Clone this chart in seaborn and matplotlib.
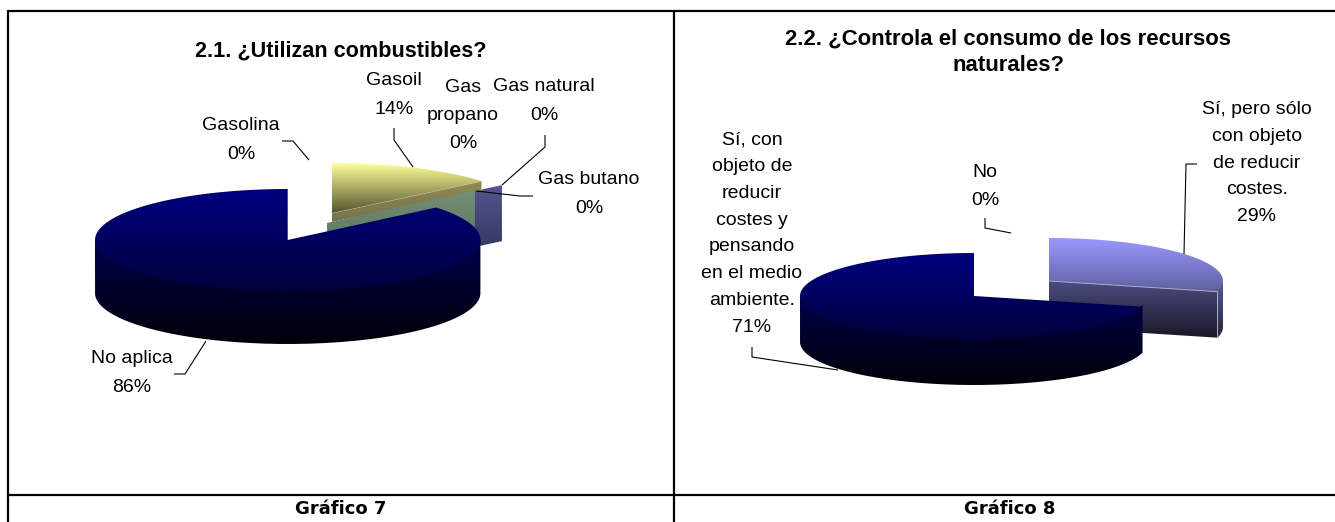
import numpy as np
import matplotlib
matplotlib.use('Agg')
import matplotlib.pyplot as plt
import seaborn as sns
from matplotlib.patches import PathPatch
from matplotlib.path import Path

# Data
labels_a = ['Gasolina', 'Gasoil', 'Gas\npropano', 'Gas natural', 'Gas butano', 'No aplica']
values_a = [0, 14, 0, 0, 0, 86]
labels_b = ['Sí, pero sólo\ncon objeto\nde reducir\ncostes.', 'Sí, con\nobjeto de\nreducir\ncostes y\npensando\nen el medio\nambiente.', 'No']
values_b = [29, 71, 0]
titles = ['2.1. ¿Utilizan combustibles?', '2.2. ¿Controla el consumo de los recursos\nnaturales?']
footers = ['Gráfico 7', 'Gráfico 8']

sns.set_theme(style='white')
plt.rcParams['font.family'] = ['Liberation Sans', 'DejaVu Sans']

fig = plt.figure(figsize=(13.35, 5.22), dpi=100)
ax = fig.add_axes([0, 0, 1, 1])
ax.axis('off')


def arc(cx, cy, rx, ry, t1, t2):
    # angles clockwise from 12 o'clock, in degrees
    t = np.radians(np.linspace(t1, t2, 120))
    return np.column_stack([cx + rx * np.sin(t), cy - ry * np.cos(t)])


def grad_fill(pts, y0, y1, c0, c1, z):
    pts = np.asarray(pts, dtype=float)
    cmap = sns.blend_palette([c0, c1], as_cmap=True)
    im = ax.imshow(np.linspace(0, 1, 128)[:, None], extent=[pts[:, 0].min(), pts[:, 0].max(), y1, y0],
                   cmap=cmap, aspect='auto', zorder=z, interpolation='bilinear')
    im.set_clip_path(PathPatch(Path(np.vstack([pts, pts[0]])), transform=ax.transData))


def wedge(cx, cy, rx, ry, depth, start, value, top, side, z):
    # one slice of the pie: outer wall first, then the upper face
    t1, t2 = start, start + value * 3.6
    front = (max(t1, 90), min(t2, 270))
    if front[1] > front[0]:
        a = arc(cx, cy, rx, ry, *front)
        # wall goes a bit under the top so no light seam shows
        wall = np.vstack([a - [0, 2], (a + [0, depth])[::-1]])
        grad_fill(wall, a[:, 1].min(), a[:, 1].max() + depth, side[0], side[1], z)
    pts = np.vstack([[cx, cy], arc(cx, cy, rx, ry, t1, t2)])
    grad_fill(pts, pts[:, 1].min(), pts[:, 1].max(), top[0], top[1], z + 0.1)


def face(cx, cy, rx, ry, depth, angle, c0, c1, z, edge=None):
    # cut face of a slice, the only visible part of a 0% slice
    e = arc(cx, cy, rx, ry, angle, angle)[0]
    pts = [[cx, cy], e, e + [0, depth], [cx, cy + depth]]
    grad_fill(pts, min(cy, e[1]), max(cy, e[1]) + depth, c0, c1, z)
    if edge:
        ax.plot([cx, e[0], e[0]], [cy, e[1], e[1] + depth], color=edge, lw=0.7, zorder=z + 0.2)


def leader(xs, ys):
    ax.plot(xs, ys, color='black', lw=0.8, zorder=10, solid_capstyle='butt')


# left pie, exploded slices at the back
ang_a = np.cumsum([0] + values_a) * 3.6
face(354, 217, 192, 50, 56, ang_a[2], '#55558f', '#2c2c50', 1)
face(332, 213, 194, 50, 9, ang_a[2], '#8f8a55', '#77724a', 2, edge='#c8c8a0')
wedge(332, 213, 194, 50, 53, ang_a[1], values_a[1], ('#ffff99', '#55552f'), ('#8f8a55', '#55502f'), 2.5)
face(327, 223, 192, 51, 53, ang_a[2], '#748f74', '#506b58', 3)
wedge(287.7, 240, 192.7, 51, 53, ang_a[2], values_a[5], ('#000080', '#00003c'), ('#00004a', '#000008'), 6)

# right pie
ang_b = np.cumsum([0] + values_b) * 3.6
wedge(1049, 281, 174, 43, 46, 0, values_b[0], ('#9999ff', '#5f5f9e'), ('#5a5a96', '#24243a'), 1)
face(1049, 281, 174, 43, 46, ang_b[1], '#4c4c80', '#181826', 2, edge='#a8a8c8')
wedge(974, 296, 174, 43, 46, ang_b[1], values_b[1], ('#000080', '#00003c'), ('#00004a', '#000008'), 6)

# leader lines
leader([282, 293, 309], [141, 141, 160])
leader([394, 394, 413], [128, 140, 167])
leader([545, 545, 502], [135, 147, 185])
leader([533, 520, 476], [196, 196, 191])
leader([174, 185, 206], [374, 374, 341])
leader([1197, 1186, 1184], [164, 164, 254])
leader([985, 985, 1011], [218, 228, 233])
leader([752, 752, 838], [347, 357, 370])

# labels
tx = dict(ha='center', va='center', fontsize=14, color='black', zorder=11)
ax.text(241, 140, f'{labels_a[0]}\n{values_a[0]}%', linespacing=1.98, **tx)
ax.text(394, 95, f'{labels_a[1]}\n{values_a[1]}%', linespacing=1.9, **tx)
ax.text(463, 115.5, f'{labels_a[2]}\n{values_a[2]}%', linespacing=1.85, **tx)
ax.text(544, 101, f'{labels_a[3]}\n{values_a[3]}%', linespacing=1.85, **tx)
ax.text(589, 194, f'{labels_a[4]}\n{values_a[4]}%', linespacing=1.85, **tx)
ax.text(132, 373, f'{labels_a[5]}\n{values_a[5]}%', linespacing=1.98, **tx)
ax.text(1257, 163, f'{labels_b[0]}\n{values_b[0]}%', linespacing=1.75, **tx)
ax.text(752, 233.5, f'{labels_b[1]}\n{values_b[1]}%', linespacing=1.75, **tx)
ax.text(985, 186.5, f'{labels_b[2]}\n{values_b[2]}%', linespacing=1.85, **tx)

# titles and table
ttl = dict(ha='center', va='center', fontweight='bold', color='black')
ax.text(341, 51, titles[0], fontsize=15.6, **ttl)
ax.text(1008, 52, titles[1], fontsize=15.9, linespacing=1.35, **ttl)
ftr = dict(ha='center', va='center', fontsize=13, fontweight='bold', family='DejaVu Sans', color='black')
ax.text(340.5, 509, footers[0], **ftr)
ax.text(1009.5, 509, footers[1], **ftr)
for xs, ys in [([8, 1335], [11, 11]), ([8, 1335], [495, 495]), ([8, 8], [11, 522]), ([674, 674], [11, 522])]:
    ax.plot(xs, ys, color='black', lw=1.6, zorder=12)

ax.set_xlim(0, 1335)
ax.set_ylim(522, 0)
fig.savefig('out.png', dpi=100)
